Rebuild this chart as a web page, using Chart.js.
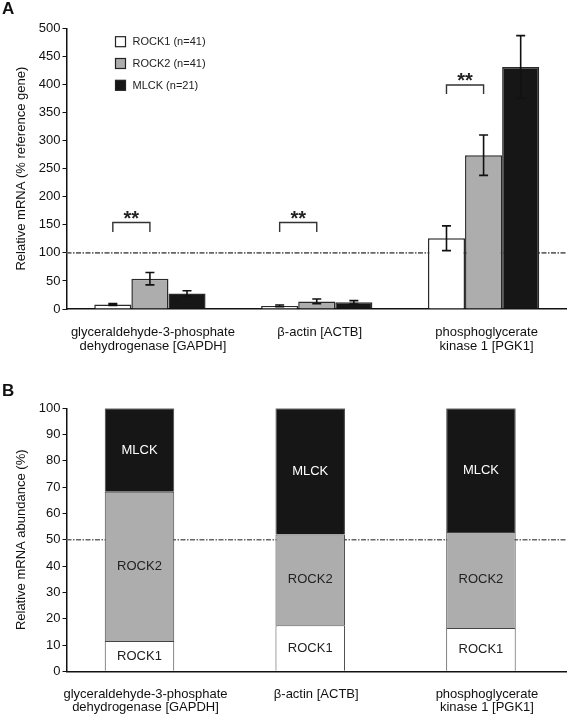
<!DOCTYPE html>
<html><head><meta charset="utf-8">
<script src="https://cdn.jsdelivr.net/npm/chart.js@4.4.1/dist/chart.umd.min.js"></script>
<style>
html,body{margin:0;padding:0;background:#fff;}
#wrap{position:relative;width:567px;height:717px;overflow:hidden;font-family:"Liberation Sans",Arial,sans-serif;}
canvas{position:absolute;left:0;}
.tag{position:absolute;left:2px;font-weight:bold;font-size:17px;color:#111;line-height:1;}
</style></head><body>
<div id="wrap">
<canvas id="cA" width="567" height="360" style="top:0"></canvas>
<canvas id="cB" width="567" height="357" style="top:360px"></canvas>
<div class="tag" style="top:0px">A</div>
<div class="tag" style="top:382px">B</div>
</div>
<script>
// ---------- data ----------
const categories = [["glyceraldehyde-3-phosphate","dehydrogenase [GAPDH]"],["β-actin [ACTB]"],["phosphoglycerate","kinase 1 [PGK1]"]];
const seriesNames = ["ROCK1 (n=41)","ROCK2 (n=41)","MLCK (n=21)"];
// Panel A: relative mRNA (% reference gene), mean and error
const rock1Expr = [8, 5.5, 126];
const rock1Err  = [1.5, 1.5, 22];
const rock2Expr = [54, 13.5, 274];
const rock2Err  = [11, 4.2, 36];
const mlckExpr  = [27.5, 12, 431];
const mlckErr   = [5, 3, 56];
const yTicksA = [0, 500, 50];   // min, max, step
const refValueA = 100;
// significance brackets: category, top value, leg end value
const sigCats   = [0, 1, 2];
const sigTop    = [154, 154, 399];
const sigLegEnd = [137, 137, 383];
const sigText   = "**";
// Panel B: relative mRNA abundance (%)
const shareNames = ["ROCK1","ROCK2","MLCK"];
const rock1Share = [11.5, 17.5, 16.5];
const rock2Share = [56.8, 34.5, 36.5];
const mlckShare  = [31.7, 48.0, 47.0];
const yTicksB = [0, 100, 10];
const refValueB = 50;

// ---------- style ----------
const FONT = "'Liberation Sans', Arial, sans-serif";
const INK = '#111';
const colWhite = '#ffffff', colGrey = '#adadad', colBlack = '#161616';

const refLinePlugin = {
  id: 'refLine',
  beforeDatasetsDraw(chart, args, opts) {
    if (opts.value == null) return;
    const {ctx, chartArea} = chart; const y = chart.scales.y.getPixelForValue(opts.value);
    ctx.save();
    ctx.strokeStyle = '#666'; ctx.lineWidth = 1.6;
    ctx.setLineDash([5, 1.5, 1.5, 1.5]);
    ctx.beginPath(); ctx.moveTo(chartArea.left, y); ctx.lineTo(chartArea.right, y); ctx.stroke();
    ctx.restore();
  }
};

const errorBarPlugin = {
  id: 'errBars',
  afterDatasetsDraw(chart) {
    const {ctx} = chart; const ys = chart.scales.y;
    chart.data.datasets.forEach((ds, di) => {
      if (!ds.errors) return;
      const meta = chart.getDatasetMeta(di);
      meta.data.forEach((bar, i) => {
        const v = ds.data[i], e = ds.errors[i];
        const yt = ys.getPixelForValue(v + e), yb = ys.getPixelForValue(v - e);
        ctx.save();
        ctx.strokeStyle = '#111'; ctx.lineWidth = 1.6;
        ctx.beginPath();
        ctx.moveTo(bar.x, yt); ctx.lineTo(bar.x, yb);
        ctx.moveTo(bar.x - 4.5, yt); ctx.lineTo(bar.x + 4.5, yt);
        ctx.moveTo(bar.x - 4.5, yb); ctx.lineTo(bar.x + 4.5, yb);
        ctx.stroke(); ctx.restore();
      });
    });
  }
};

const sigPlugin = {
  id: 'sig',
  afterDatasetsDraw(chart) {
    const {ctx} = chart; const ys = chart.scales.y;
    sigCats.forEach((c, k) => {
      const x1 = chart.getDatasetMeta(0).data[c].x;
      const x2 = chart.getDatasetMeta(1).data[c].x;
      const yt = ys.getPixelForValue(sigTop[k]), yl = ys.getPixelForValue(sigLegEnd[k]);
      ctx.save();
      ctx.strokeStyle = '#333'; ctx.lineWidth = 1.4;
      ctx.beginPath();
      ctx.moveTo(x1, yl); ctx.lineTo(x1, yt); ctx.lineTo(x2, yt); ctx.lineTo(x2, yl);
      ctx.stroke();
      ctx.fillStyle = '#222'; ctx.font = 'bold 20px ' + FONT;
      ctx.textAlign = 'center'; ctx.textBaseline = 'alphabetic';
      ctx.fillText(sigText, (x1 + x2) / 2, yt + 2);
      ctx.restore();
    });
  }
};

const legendPlugin = {
  id: 'boxLegend',
  afterDraw(chart) {
    const {ctx} = chart;
    chart.data.datasets.forEach((ds, i) => {
      const cy = 41.7 + i * 21.8;
      ctx.save();
      ctx.fillStyle = ds.backgroundColor; ctx.strokeStyle = '#222'; ctx.lineWidth = 1.2;
      ctx.fillRect(115.5, cy - 5, 10, 10); ctx.strokeRect(115.5, cy - 5, 10, 10);
      ctx.fillStyle = '#222'; ctx.font = '11px ' + FONT; ctx.textBaseline = 'middle'; ctx.textAlign = 'left';
      ctx.fillText(ds.label, 132.5, cy + 0.5);
      ctx.restore();
    });
  }
};

const segLabelPlugin = {
  id: 'segLabels',
  afterDatasetsDraw(chart) {
    const {ctx} = chart;
    chart.data.datasets.forEach((ds, di) => {
      const meta = chart.getDatasetMeta(di);
      meta.data.forEach((bar) => {
        ctx.save();
        ctx.fillStyle = ds.labelColor; ctx.font = '13px ' + FONT;
        ctx.textAlign = 'center'; ctx.textBaseline = 'middle';
        ctx.fillText(ds.label, bar.x, (bar.y + bar.base) / 2);
        ctx.restore();
      });
    });
  }
};

function yAxis(ticks, title, width) {
  return {
    min: ticks[0], max: ticks[1],
    ticks: {stepSize: ticks[2], color: INK, font: {size: 13, family: FONT}, padding: 2},
    grid: {display: true, drawOnChartArea: false, drawTicks: true, tickLength: 4, color: INK, lineWidth: 1},
    border: {display: true, color: INK, width: 1.5},
    title: {display: true, text: title, color: INK, font: {size: 13, family: FONT}, padding: {top: 14, bottom: 0}},
    afterFit(s) { s.width = width; }
  };
}

// ---------- Panel A ----------
new Chart(document.getElementById('cA'), {
  type: 'bar',
  data: {
    labels: categories,
    datasets: [
      {label: seriesNames[0], data: rock1Expr, errors: rock1Err, backgroundColor: colWhite},
      {label: seriesNames[1], data: rock2Expr, errors: rock2Err, backgroundColor: colGrey},
      {label: seriesNames[2], data: mlckExpr, errors: mlckErr, backgroundColor: colBlack}
    ]
  },
  options: {
    responsive: false, animation: false, events: [],
    layout: {padding: {top: 28.3, left: 0, right: 0, bottom: 0}},
    datasets: {bar: {categoryPercentage: 0.667, barPercentage: 1.0, borderWidth: 1.5, borderColor: '#2a2a2a'}},
    plugins: {legend: {display: false}, tooltip: {enabled: false}, refLine: {value: refValueA}},
    scales: {
      x: {
        type: 'category', offset: true,
        grid: {display: false, drawTicks: false},
        border: {display: true, color: INK, width: 1.5},
        ticks: {color: INK, font: {size: 13, family: FONT, lineHeight: 1.05}, padding: 17, maxRotation: 0, autoSkip: false, labelOffset: 3},
        afterFit(s) { s.height = 51; }
      },
      y: yAxis(yTicksA, 'Relative mRNA (% reference gene)', 66.5)
    }
  },
  plugins: [refLinePlugin, errorBarPlugin, sigPlugin, legendPlugin]
});

// ---------- Panel B ----------
const toXY = arr => arr.map((v, i) => ({x: i, y: v}));
new Chart(document.getElementById('cB'), {
  type: 'bar',
  data: {
    datasets: [
      {label: shareNames[0], data: toXY(rock1Share), backgroundColor: colWhite, labelColor: '#222'},
      {label: shareNames[1], data: toXY(rock2Share), backgroundColor: colGrey, labelColor: '#222'},
      {label: shareNames[2], data: toXY(mlckShare), backgroundColor: colBlack, labelColor: '#ffffff'}
    ]
  },
  options: {
    responsive: false, animation: false, events: [],
    layout: {padding: {top: 48.3, left: 0, right: 0, bottom: 0}},
    datasets: {bar: {categoryPercentage: 0.407, barPercentage: 1.0, borderWidth: 1, borderColor: '#444'}},
    plugins: {legend: {display: false}, tooltip: {enabled: false}, refLine: {value: refValueB}},
    scales: {
      x: {
        type: 'linear', min: -0.4275, max: 2.504, stacked: true, offset: false,
        afterBuildTicks(s) { s.ticks = categories.map((c, i) => ({value: i})); },
        grid: {display: false, drawTicks: false},
        border: {display: true, color: INK, width: 1.5},
        ticks: {color: INK, font: {size: 13, family: FONT, lineHeight: 1.02}, padding: 16, maxRotation: 0, autoSkip: false, labelOffset: 6,
                callback: (v) => categories[v]},
        afterFit(s) { s.height = 45.7; }
      },
      y: Object.assign(yAxis(yTicksB, 'Relative mRNA abundance (%)', 66.5), {stacked: true})
    }
  },
  plugins: [refLinePlugin, segLabelPlugin]
});
</script>
</body></html>
